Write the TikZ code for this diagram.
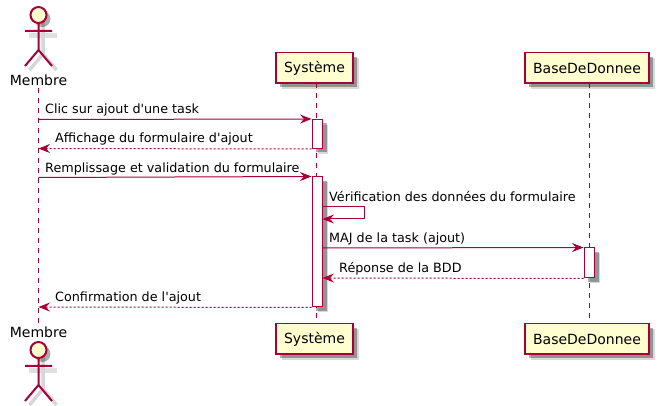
\documentclass[tikz,border=0pt]{standalone}
\usepackage{fontspec}
\newfontfamily\police{DejaVu Sans}
\usetikzlibrary{arrows.meta,shadows}
\definecolor{bord}{HTML}{A80036}
\definecolor{fond}{HTML}{FEFECE}
\tikzset{
  ombre/.style={general shadow={shadow xshift=5.5pt,shadow yshift=-5.5pt,fill=black,opacity=.15},
                general shadow={shadow xshift=4pt,shadow yshift=-4pt,fill=black,opacity=.32}},
  participant/.style={draw=bord,fill=fond,line width=1.5pt,minimum height=30.5pt,ombre,
                      font=\police\fontsize{14}{16}\selectfont,inner sep=0pt},
  nomacteur/.style={font=\police\fontsize{14}{16}\selectfont,inner sep=0pt,text height=11pt,text depth=0pt,minimum height=15pt},
  activation/.style={draw=bord,fill=white,line width=1pt,minimum width=10.5pt,inner sep=0pt,ombre},
  vie/.style={draw=bord,line width=1pt,dash pattern=on 5pt off 5pt},
  msg/.style={draw=bord,line width=1pt,-{Stealth[length=11.5pt,width=9pt,inset=4pt]},shorten >=0pt},
  retour/.style={msg,dash pattern=on 2pt off 2pt},
  texte/.style={anchor=base west,inner sep=0pt,font=\police\fontsize{12.75}{15}\selectfont},
  pics/acteur/.style={code={
    \draw[black!12,line width=5pt] (-10,-21) -- (18,-21);
    \draw[black!16,line width=3.5pt] (4.5,-4) -- (4.5,-39) (4.5,-39) -- (-9,-55) (4.5,-39) -- (18,-55);
    \node[circle,draw=bord,fill=fond,line width=2pt,minimum size=16pt,inner sep=0pt,
          general shadow={shadow xshift=4pt,shadow yshift=-4pt,fill=black,opacity=.32}] (-tete) at (0,0) {};
    \draw[bord,line width=2pt] (-tete.south) -- (0,-35) (-13.5,-16) -- (13.5,-16)
      (-13.5,-51) -- (0,-35) -- (13.5,-51);
  }}
}
\begin{document}
\begin{tikzpicture}[x=1pt,y=1pt]
  \useasboundingbox (0,0) rectangle (662,-406);

  \node[nomacteur]                    (MembreH)  at (38.5,-80)  {Membre};
  \node[participant,minimum width=77pt]  (SystemeH) at (314.5,-68) {Système};
  \node[participant,minimum width=124pt] (BaseH)    at (587,-68)   {BaseDeDonnee};
  \node[nomacteur]                    (MembreB)  at (38.5,-332) {Membre};
  \node[participant,minimum width=77pt]  (SystemeB) at (314.5,-339) {Système};
  \node[participant,minimum width=124pt] (BaseB)    at (587,-339)  {BaseDeDonnee};

  \pic (ActeurH) at (38.5,-15) {acteur};
  \pic (ActeurB) at (38.5,-350) {acteur};

  \coordinate (SH) at (316.5,-83.5);
  \coordinate (SB) at (316.5,-323.5);
  \coordinate (DH) at (589,-83.5);
  \coordinate (DB) at (589,-323.5);

  \path[vie] (MembreH) edge (MembreB);
  \path[vie] (SH) edge (SB);
  \path[vie] (DH) edge (DB);

  \node[activation,minimum height=29pt]  (A1) at (317.25,-134) {};
  \node[activation,minimum height=130pt] (A2) at (317.25,-242) {};
  \node[activation,minimum height=30pt]  (A3) at (589.25,-263) {};

  \coordinate (M1) at (38.5,-119.5);
  \coordinate (M2) at (38.5,-148.5);
  \coordinate (M3) at (38.5,-177.5);
  \coordinate (M7) at (38.5,-307);
  \coordinate (R1) at (364,-207);
  \coordinate (R2) at (364,-219);
  \coordinate (B1) at (322.5,-207);
  \coordinate (B2) at (322.5,-219);
  \coordinate (B3) at (322.5,-248);
  \coordinate (B4) at (322.5,-278);

  \path (M1) edge[msg] (A1.north west)
        (A1.south west) edge[retour] (M2)
        (M3) edge[msg] (A2.north west)
        (B3) edge[msg] (A3.north west)
        (A3.south west) edge[retour] (B4)
        (A2.south west) edge[retour] (M7);
  \draw[msg] (B1) -- (R1) -- (R2) -- (B2);

  \node[texte] (T1) at (45,-114)  {Clic sur ajout d'une task};
  \node[texte] (T2) at (55,-143)  {Affichage du formulaire d'ajout};
  \node[texte] (T3) at (45,-173)  {Remplissage et validation du formulaire};
  \node[texte] (T4) at (329,-202) {Vérification des données du formulaire};
  \node[texte] (T5) at (329,-243) {MAJ de la task (ajout)};
  \node[texte] (T6) at (339,-273) {Réponse de la BDD};
  \node[texte] (T7) at (55,-302)  {Confirmation de l'ajout};
\end{tikzpicture}
\end{document}
